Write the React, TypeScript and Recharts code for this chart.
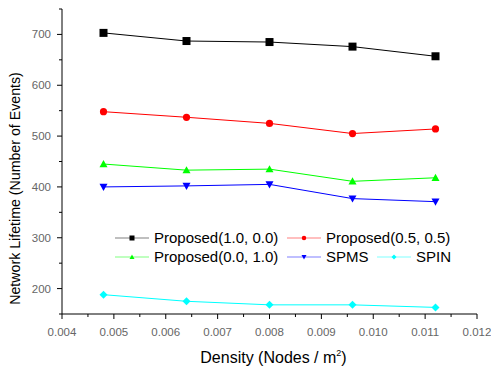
import { LineChart, Line, XAxis, YAxis, Legend } from 'recharts';

const density = [0.0048, 0.0064, 0.008, 0.0096, 0.0112];
const proposed10 = [703, 687, 685, 676, 657];
const proposed55 = [548, 537, 525, 505, 514];
const proposed01 = [445, 433, 435, 411, 418];
const spms = [400, 402, 405, 377, 371];
const spin = [188, 175, 168, 168, 163];

const xTicks = [0.004, 0.0045, 0.005, 0.0055, 0.006, 0.0065, 0.007, 0.0075, 0.008, 0.0085, 0.009, 0.0095, 0.01, 0.0105, 0.011, 0.0115, 0.012];
const yTicks = [150, 200, 250, 300, 350, 400, 450, 500, 550, 600, 650, 700, 750];

const series = [
  { key: 'p10', name: 'Proposed(1.0, 0.0)', color: '#000000', shape: 'square', values: proposed10 },
  { key: 'p55', name: 'Proposed(0.5, 0.5)', color: '#ff0000', shape: 'circle', values: proposed55 },
  { key: 'p01', name: 'Proposed(0.0, 1.0)', color: '#00ff00', shape: 'up', values: proposed01 },
  { key: 'spms', name: 'SPMS', color: '#0000ff', shape: 'down', values: spms },
  { key: 'spin', name: 'SPIN', color: '#00ffff', shape: 'diamond', values: spin },
];

const data = density.map((d, i) => {
  const row: Record<string, number> = { density: d };
  series.forEach((s) => {
    row[s.key] = s.values[i];
  });
  return row;
});

const FONT = '"Liberation Sans", Arial, sans-serif';

function Marker({ shape, cx, cy, color, size }: { shape: string; cx: number; cy: number; color: string; size: number }) {
  const h = size / 2;
  if (shape === 'square') return <rect x={cx - h} y={cy - h} width={size} height={size} fill={color} />;
  if (shape === 'circle') return <circle cx={cx} cy={cy} r={h * 0.9} fill={color} />;
  if (shape === 'up')
    return <polygon points={`${cx - h},${cy + h * 0.8} ${cx + h},${cy + h * 0.8} ${cx},${cy - h}`} fill={color} />;
  if (shape === 'down')
    return <polygon points={`${cx - h},${cy - h * 0.8} ${cx + h},${cy - h * 0.8} ${cx},${cy + h}`} fill={color} />;
  return <polygon points={`${cx},${cy - h} ${cx + h},${cy} ${cx},${cy + h} ${cx - h},${cy}`} fill={color} />;
}

function XTick(props: any) {
  const { x, y, payload } = props;
  const v = payload.value;
  const major = Math.abs(v * 1000 - Math.round(v * 1000)) < 1e-6;
  return (
    <g>
      <line x1={x} y1={y} x2={x} y2={y + (major ? 5 : 3)} stroke="#000" />
      {major && (
        <text x={x} y={y + 22} textAnchor="middle" fontSize={11.5} fill="#666" fontFamily={FONT}>
          {v.toFixed(3)}
        </text>
      )}
    </g>
  );
}

function YTick(props: any) {
  const { x, y, payload } = props;
  const v = payload.value;
  const major = v % 100 === 0;
  return (
    <g>
      <line x1={x} y1={y} x2={x - (major ? 5 : 3)} y2={y} stroke="#000" />
      {major && (
        <text x={x - 11} y={y + 4} textAnchor="end" fontSize={11.5} fill="#666" fontFamily={FONT}>
          {v}
        </text>
      )}
    </g>
  );
}

function LegendItem({ s }: { s: (typeof series)[number] }) {
  return (
    <div style={{ display: 'flex', alignItems: 'center', whiteSpace: 'nowrap' }}>
      <svg width={34} height={12}>
        <line x1={0} y1={6} x2={34} y2={6} stroke={s.color} strokeOpacity={0.5} />
        <Marker shape={s.shape} cx={17} cy={6} color={s.color} size={5} />
      </svg>
      <span style={{ marginLeft: 5, fontSize: 15, color: '#000', fontFamily: FONT }}>{s.name}</span>
    </div>
  );
}

function ChartLegend() {
  const pos = [
    { left: 0, top: 0 },
    { left: 172, top: 0 },
    { left: 0, top: 19 },
    { left: 172, top: 19 },
    { left: 262, top: 19 },
  ];
  return (
    <div style={{ position: 'relative', width: 330, height: 40 }}>
      {series.map((s, i) => (
        <div key={s.key} style={{ position: 'absolute', left: pos[i].left, top: pos[i].top }}>
          <LegendItem s={s} />
        </div>
      ))}
    </div>
  );
}

export default function App() {
  return (
    <div style={{ position: 'absolute', left: 0, top: 0, background: '#fff' }}>
      <LineChart width={491} height={366} data={data} margin={{ top: 9, right: 14, bottom: 0, left: 0 }}>
        <XAxis
          dataKey="density"
          type="number"
          domain={[0.004, 0.012]}
          ticks={xTicks}
          interval={0}
          height={52}
          stroke="#000"
          tickLine={false}
          tickSize={0}
          tickMargin={0}
          tick={<XTick />}
          label={{
            content: (p: any) => {
              const vb = p.viewBox;
              return (
                <text x={vb.x + vb.width / 2 + 4} y={vb.y + 49} textAnchor="middle" fontSize={16} fill="#000" fontFamily={FONT}>
                  Density (Nodes / m
                  <tspan fontSize={9} dy={-7}>2</tspan>
                  <tspan dy={7}>)</tspan>
                </text>
              );
            },
          }}
        />
        <YAxis
          type="number"
          domain={[150, 750]}
          ticks={yTicks}
          interval={0}
          width={62}
          stroke="#000"
          tickLine={false}
          tickSize={0}
          tickMargin={0}
          tick={<YTick />}
          label={{
            content: (p: any) => {
              const vb = p.viewBox;
              const cx = vb.x + 20;
              const cy = vb.y + vb.height / 2 + 27;
              return (
                <text
                  x={cx}
                  y={cy}
                  textAnchor="middle"
                  fontSize={14.2}
                  fill="#000"
                  fontFamily={FONT}
                  transform={`rotate(-90 ${cx} ${cy})`}
                >
                  Network Lifetime (Number of Events)
                </text>
              );
            },
          }}
        />
        <Legend
          layout="horizontal"
          verticalAlign="middle"
          content={() => <ChartLegend />}
          wrapperStyle={{ left: 115, top: 229, width: 330 }}
        />
        {series.map((s) => (
          <Line
            key={s.key}
            dataKey={s.key}
            name={s.name}
            stroke={s.color}
            strokeWidth={1}
            isAnimationActive={false}
            dot={(p: any) => <Marker key={`${s.key}-${p.index}`} shape={s.shape} cx={p.cx} cy={p.cy} color={s.color} size={8} />}
            activeDot={false}
          />
        ))}
      </LineChart>
    </div>
  );
}
